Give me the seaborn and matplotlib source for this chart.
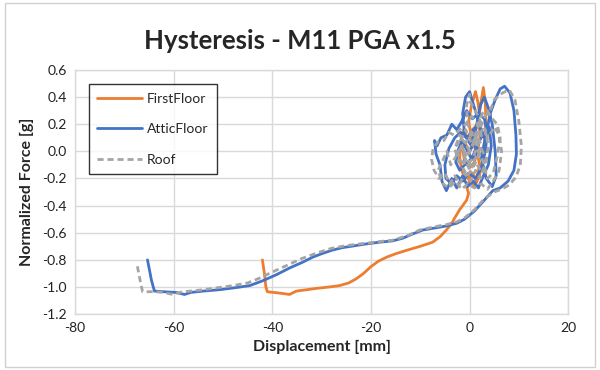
import matplotlib
matplotlib.use("Agg")
import matplotlib.pyplot as plt
import seaborn as sns
import pandas as pd
from matplotlib.patches import Rectangle

# Force–displacement histories (displacement in mm, force in g)
first_floor_x = [0.0, 0.6, 1.2, 0.6, -0.2, -0.8, -1.4, -1.0, 0.0, 1.0, 1.8, 2.2, 1.6, 0.6,
                 -0.4, -1.2, -1.8, -2.0, -1.4, -0.4, 0.6, 1.4, 2.0, 1.4, 0.4, -0.2, 0.4,
                 1.2, 1.7, 2.0, 2.4, 2.8, 3.2, 3.3, 3.0, 2.6, 2.0, 1.0, 0.2, -0.6, -0.2,
                 -0.6, -1.2, -2.0, -3.0, -3.6, -4.7, -6.0, -7.5, -10.0, -12.8, -15.0, -16.8,
                 -18.5, -20.0, -21.5, -23.0, -24.5, -26.4, -28.5, -31.0, -33.0, -35.1,
                 -36.5, -38.5, -41.0, -41.3, -41.6, -42.0]
first_floor_y = [0.00, 0.06, 0.02, -0.06, -0.02, 0.06, 0.02, -0.08, -0.12, -0.08, 0.04, 0.14,
                 0.20, 0.16, 0.10, 0.16, 0.08, -0.06, -0.16, -0.20, -0.16, -0.22, -0.10,
                 0.04, 0.10, 0.22, 0.34, 0.44, 0.36, 0.28, 0.38, 0.47, 0.36, 0.22, 0.06,
                 -0.07, -0.18, -0.26, -0.20, -0.26, -0.31, -0.36, -0.39, -0.43, -0.49, -0.53,
                 -0.58, -0.63, -0.67, -0.70, -0.73, -0.755, -0.78, -0.81, -0.85, -0.90,
                 -0.94, -0.97, -0.99, -1.00, -1.01, -1.02, -1.03, -1.055, -1.045, -1.035,
                 -1.00, -0.90, -0.80]

attic_x = [0.0, 0.8, 1.5, 1.0, 0.2, -0.8, -1.5, -2.2, -2.8, -2.0, -1.0, 0.5, 1.8, 2.6,
           2.0, 0.8, -0.5, -1.8, -3.0, -4.2, -5.0, -4.8, -3.6, -2.6, -1.4, -0.2, 1.2,
           2.4, 3.2, 3.6, 3.0, 1.8, 0.6, -0.6, -1.6, -2.6, -3.6, -4.6, -5.8, -6.6, -7.1,
           -6.8, -6.0, -5.6, -4.7, -3.6, -2.6, -1.4, -0.4, 0.8, 1.8, 2.8, 3.8, 4.4, 4.0,
           3.0, 2.0, 1.0, 0.0, -0.8, -1.4, -1.0, 0.2, 1.2, 2.2, 3.0, 3.8, 4.6, 5.2, 5.4,
           4.6, 3.4, 2.4, 3.2, 4.2, 5.2, 6.2, 7.1, 8.2, 9.0, 9.4, 9.5, 9.0, 7.8, 6.2,
           4.7, 3.0, 1.0, -1.0, -2.6, -4.7, -7.0, -9.5, -11.6, -13.5, -15.6, -18.3,
           -20.5, -22.3, -24.0, -25.8, -28.0, -30.0, -31.8, -34.0, -36.5, -39.2, -42.0,
           -44.6, -47.5, -50.7, -54.0, -56.5, -57.8, -59.5, -62.0, -63.9, -64.5, -65.3]
attic_y = [0.00, 0.05, 0.02, -0.06, -0.04, 0.03, 0.08, 0.02, -0.08, -0.14, -0.10, -0.05,
           0.06, 0.12, 0.20, 0.16, 0.10, 0.14, 0.10, 0.02, -0.10, -0.20, -0.24, -0.18,
           -0.22, -0.16, -0.20, -0.12, 0.00, 0.14, 0.24, 0.28, 0.24, 0.30, 0.22, 0.16,
           0.20, 0.12, 0.10, 0.04, 0.08, -0.02, -0.10, -0.22, -0.29, -0.20, -0.27, -0.18,
           -0.26, -0.22, -0.27, -0.18, -0.10, 0.04, 0.18, 0.10, 0.20, 0.32, 0.44, 0.40,
           0.28, 0.12, 0.05, 0.15, 0.34, 0.40, 0.32, 0.20, 0.00, -0.18, -0.26, -0.20,
           -0.05, 0.10, 0.28, 0.38, 0.46, 0.48, 0.43, 0.30, 0.12, -0.02, -0.14, -0.22,
           -0.27, -0.29, -0.36, -0.44, -0.50, -0.53, -0.55, -0.565, -0.58, -0.61, -0.64,
           -0.66, -0.67, -0.68, -0.69, -0.70, -0.71, -0.73, -0.755, -0.78, -0.82, -0.86,
           -0.91, -0.955, -0.99, -1.005, -1.02, -1.03, -1.04, -1.055, -1.04, -1.035,
           -1.03, -0.95, -0.80]

roof_x = [0.0, -0.8, -1.8, -2.6, -2.0, -0.8, 0.6, 1.6, 2.4, 1.6, 0.4, -0.8, -2.0, -3.2,
          -4.2, -5.2, -6.4, -7.4, -7.7, -7.2, -6.2, -5.0, -4.0, -3.0, -2.0, -1.0, 0.2,
          1.2, 2.2, 3.2, 3.8, 3.2, 2.2, 1.2, 0.2, 0.0, -0.6, -0.4, 0.6, 1.8, 2.8, 3.6,
          4.8, 5.6, 6.2, 5.6, 4.6, 3.6, 2.6, 1.6, 0.6, -0.6, -1.6, -2.8, -3.8, -4.6,
          -5.6, -6.4, -5.4, -4.2, -2.8, -1.6, -0.4, 1.0, 2.4, 3.6, 4.8, 6.0, 6.5, 6.0,
          5.0, 3.8, 2.6, 1.4, 0.4, -0.8, -2.0, -3.0, -2.2, -1.0, 0.2, 1.4, 2.4, 1.6,
          0.4, -0.8, -1.8, -1.2, 0.0, 1.2, 2.6, 3.4, 2.4, 1.0, -0.4, -1.4, -0.6, 0.8,
          2.0, 3.2, 4.2, 5.0, 6.2, 7.2, 8.1, 9.2, 10.0, 10.5, 10.3, 9.4, 8.0, 6.4, 5.0,
          3.0, 1.0, -1.0, -2.6, -4.7, -7.0, -10.1, -12.5, -15.6, -18.3, -20.5, -23.0,
          -25.8, -28.0, -31.0, -34.0, -37.0, -40.0, -42.6, -45.0, -48.0, -51.0, -54.0,
          -56.5, -58.2, -60.2, -62.0, -63.9, -66.3, -66.8, -67.5]
roof_y = [0.00, 0.06, 0.10, 0.04, -0.06, -0.10, -0.06, 0.04, 0.12, 0.20, 0.26, 0.20,
          0.16, 0.12, 0.14, 0.08, 0.07, 0.02, -0.06, -0.14, -0.20, -0.16, -0.24, -0.18,
          -0.24, -0.16, -0.22, -0.14, -0.20, -0.10, 0.04, 0.16, 0.22, 0.30, 0.36, 0.42,
          0.34, 0.20, 0.12, 0.00, -0.08, -0.20, -0.16, -0.04, 0.10, 0.20, 0.24, 0.30,
          0.28, 0.18, 0.04, -0.04, 0.04, -0.04, -0.10, 0.00, -0.08, -0.14, -0.24, -0.27,
          -0.22, -0.28, -0.24, -0.27, -0.24, -0.28, -0.22, -0.14, 0.00, 0.12, 0.18,
          0.10, 0.16, 0.08, 0.14, 0.06, 0.12, 0.02, -0.08, -0.02, -0.10, -0.04, 0.04,
          0.12, 0.06, 0.16, 0.08, -0.02, -0.14, -0.08, -0.16, -0.06, 0.02, -0.10, -0.18,
          -0.12, -0.04, 0.06, 0.16, 0.26, 0.30, 0.38, 0.42, 0.44, 0.45, 0.38, 0.22, 0.04,
          -0.10, -0.19, -0.25, -0.28, -0.30, -0.35, -0.43, -0.49, -0.52, -0.54, -0.555,
          -0.58, -0.62, -0.655, -0.665, -0.675, -0.685, -0.70, -0.715, -0.75, -0.79,
          -0.84, -0.89, -0.935, -0.97, -0.99, -1.005, -1.02, -1.03, -1.035, -1.055,
          -1.04, -1.035, -1.035, -0.95, -0.82]

x_ticks = [-80, -60, -40, -20, 0, 20]
y_ticks = [-1.2, -1.0, -0.8, -0.6, -0.4, -0.2, 0.0, 0.2, 0.4, 0.6]

sns.set_theme(style="white")
plt.rcParams["font.family"] = ["Lato", "DejaVu Sans"]

fig = plt.figure(figsize=(6.0, 3.7), dpi=100)
ax = fig.add_axes([0.125, 0.151, 0.822, 0.66])

series = [
    ("FirstFloor", first_floor_x, first_floor_y, "#ED7D31", "-"),
    ("AtticFloor", attic_x, attic_y, "#4472C4", "-"),
    ("Roof", roof_x, roof_y, "#A5A5A5", (0, (2.2, 1.4))),
]
for name, xs, ys, color, ls in series:
    df = pd.DataFrame({"Displacement": xs, "Force": ys})
    sns.lineplot(data=df, x="Displacement", y="Force", sort=False, estimator=None,
                 ax=ax, color=color, linewidth=2.0, linestyle=ls, label=name)

ax.set_xlim(-80, 20)
ax.set_ylim(-1.2, 0.6)
ax.set_xticks(x_ticks)
ax.set_yticks(y_ticks)
ax.set_xticklabels([f"{v}" for v in x_ticks])
ax.set_yticklabels([f"{v:.1f}" for v in y_ticks])
ax.grid(True, color="#D9D9D9", linewidth=1.0)
ax.set_axisbelow(True)
for s in ax.spines.values():
    s.set_color("#D9D9D9")
    s.set_linewidth(1.0)
ax.tick_params(axis="both", length=0, labelsize=10, colors="#222222", pad=6)

ax.set_xlabel("Displacement [mm]", fontsize=11.5, fontweight="bold", labelpad=4)
ax.set_ylabel("Normalized Force [g]", fontsize=11.5, fontweight="bold", labelpad=6)
fig.suptitle("Hysteresis - M11 PGA x1.5", fontsize=18.5, fontweight="bold",
             y=0.89, va="center")

leg = ax.legend(loc="upper left", bbox_to_anchor=(0.014, 0.97), fontsize=10,
                frameon=True, fancybox=False, edgecolor="black", labelspacing=1.35,
                handlelength=3.2, handletextpad=0.4, borderpad=0.6)
leg.get_frame().set_linewidth(1.0)

fig.patches.append(Rectangle((0.008, 0.008), 0.984, 0.984, transform=fig.transFigure,
                             fill=False, edgecolor="#D0D0D0", linewidth=1.0))

fig.savefig("out.png", dpi=100)
